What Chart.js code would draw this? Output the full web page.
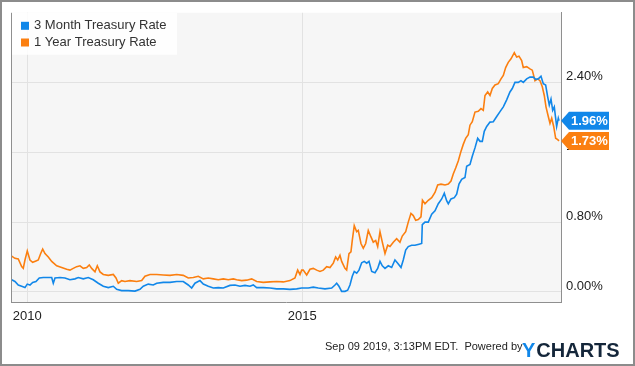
<!DOCTYPE html>
<html>
<head>
<meta charset="utf-8">
<script src="https://cdn.jsdelivr.net/npm/chart.js@4/dist/chart.umd.min.js"></script>
<style>
  html, body { margin: 0; padding: 0; background: #fff; }
  canvas { display: block; }
</style>
</head>
<body>
<canvas id="chart" width="635" height="366"></canvas>
<script>
// [decimal year, rate in %]
const threeMonthSeries = [
  [2009.716, 0.14], [2009.776, 0.12], [2009.836, 0.08], [2009.898, 0.065], [2009.958, 0.05],
  [2010.000, 0.09], [2010.049, 0.08], [2010.098, 0.11], [2010.158, 0.12], [2010.218, 0.16],
  [2010.291, 0.165], [2010.382, 0.165], [2010.444, 0.165], [2010.473, 0.10], [2010.504, 0.16],
  [2010.595, 0.165], [2010.685, 0.16], [2010.776, 0.14], [2010.867, 0.15], [2010.927, 0.165],
  [2011.018, 0.15], [2011.109, 0.165], [2011.200, 0.14], [2011.291, 0.10], [2011.382, 0.065],
  [2011.473, 0.05], [2011.564, 0.065], [2011.625, 0.03], [2011.716, 0.015], [2011.836, 0.015],
  [2011.958, 0.01], [2012.049, 0.03], [2012.109, 0.065], [2012.200, 0.09], [2012.291, 0.08],
  [2012.353, 0.10], [2012.473, 0.11], [2012.595, 0.11], [2012.716, 0.12], [2012.836, 0.12],
  [2012.927, 0.08], [2012.989, 0.045], [2013.049, 0.10], [2013.140, 0.13], [2013.200, 0.09],
  [2013.291, 0.065], [2013.382, 0.045], [2013.473, 0.05], [2013.564, 0.045], [2013.685, 0.075],
  [2013.776, 0.08], [2013.867, 0.065], [2013.958, 0.075], [2014.049, 0.065], [2014.109, 0.08],
  [2014.171, 0.05], [2014.291, 0.05], [2014.413, 0.045], [2014.535, 0.035], [2014.655, 0.035],
  [2014.776, 0.03], [2014.898, 0.035], [2014.989, 0.045], [2015.109, 0.045], [2015.200, 0.055],
  [2015.291, 0.045], [2015.413, 0.035], [2015.535, 0.045], [2015.595, 0.08], [2015.625, 0.10],
  [2015.667, 0.065], [2015.716, 0.007], [2015.776, 0.007], [2015.825, 0.02], [2015.867, 0.08],
  [2015.909, 0.18], [2015.945, 0.235], [2015.989, 0.215], [2016.031, 0.25], [2016.080, 0.335],
  [2016.127, 0.35], [2016.171, 0.33], [2016.213, 0.35], [2016.262, 0.235], [2016.322, 0.22],
  [2016.371, 0.27], [2016.413, 0.35], [2016.455, 0.30], [2016.504, 0.27], [2016.564, 0.30],
  [2016.625, 0.28], [2016.685, 0.366], [2016.735, 0.33], [2016.795, 0.28], [2016.836, 0.366],
  [2016.880, 0.48], [2016.927, 0.52], [2016.989, 0.535], [2017.049, 0.535], [2017.122, 0.547],
  [2017.171, 0.555], [2017.182, 0.77], [2017.231, 0.80], [2017.291, 0.80], [2017.353, 0.89],
  [2017.413, 0.93], [2017.473, 1.01], [2017.535, 1.065], [2017.582, 1.13], [2017.625, 1.045],
  [2017.655, 1.01], [2017.704, 1.065], [2017.764, 1.08], [2017.807, 1.12], [2017.849, 1.235],
  [2017.898, 1.29], [2017.958, 1.31], [2017.989, 1.44], [2018.049, 1.46], [2018.091, 1.555],
  [2018.140, 1.65], [2018.189, 1.76], [2018.231, 1.725], [2018.273, 1.725], [2018.309, 1.84],
  [2018.353, 1.895], [2018.413, 1.945], [2018.473, 1.95], [2018.535, 2.01], [2018.595, 2.065],
  [2018.655, 2.12], [2018.716, 2.20], [2018.776, 2.29], [2018.818, 2.33], [2018.867, 2.40],
  [2018.927, 2.40], [2018.976, 2.42], [2019.018, 2.40], [2019.080, 2.44], [2019.140, 2.46],
  [2019.200, 2.46], [2019.244, 2.435], [2019.291, 2.44], [2019.340, 2.47], [2019.382, 2.385],
  [2019.425, 2.37], [2019.462, 2.235], [2019.491, 2.14], [2019.522, 2.21], [2019.553, 2.08],
  [2019.582, 2.12], [2019.625, 1.895], [2019.655, 1.99], [2019.668, 1.96]
];

const oneYearSeries = [
  [2009.716, 0.41], [2009.776, 0.385], [2009.836, 0.377], [2009.898, 0.29], [2009.927, 0.27],
  [2009.958, 0.366], [2010.000, 0.47], [2010.049, 0.366], [2010.098, 0.34], [2010.158, 0.355],
  [2010.200, 0.366], [2010.244, 0.44], [2010.280, 0.49], [2010.322, 0.44], [2010.382, 0.40],
  [2010.444, 0.35], [2010.535, 0.30], [2010.625, 0.28], [2010.716, 0.26], [2010.776, 0.25],
  [2010.836, 0.27], [2010.898, 0.29], [2010.958, 0.30], [2011.018, 0.27], [2011.080, 0.28],
  [2011.127, 0.31], [2011.171, 0.27], [2011.231, 0.23], [2011.273, 0.30], [2011.322, 0.23],
  [2011.382, 0.20], [2011.473, 0.19], [2011.564, 0.20], [2011.613, 0.16], [2011.655, 0.10],
  [2011.716, 0.13], [2011.776, 0.12], [2011.867, 0.13], [2011.989, 0.12], [2012.080, 0.13],
  [2012.140, 0.18], [2012.231, 0.20], [2012.322, 0.20], [2012.353, 0.20], [2012.473, 0.195],
  [2012.595, 0.19], [2012.716, 0.20], [2012.836, 0.19], [2012.927, 0.16], [2013.018, 0.165],
  [2013.109, 0.18], [2013.200, 0.15], [2013.291, 0.16], [2013.382, 0.15], [2013.473, 0.14],
  [2013.564, 0.15], [2013.655, 0.14], [2013.745, 0.15], [2013.807, 0.14], [2013.898, 0.13],
  [2013.989, 0.135], [2014.080, 0.15], [2014.171, 0.12], [2014.291, 0.11], [2014.413, 0.115],
  [2014.535, 0.12], [2014.655, 0.115], [2014.776, 0.13], [2014.867, 0.16], [2014.916, 0.25],
  [2014.958, 0.20], [2014.989, 0.25], [2015.018, 0.25], [2015.080, 0.195], [2015.140, 0.26],
  [2015.200, 0.27], [2015.262, 0.25], [2015.322, 0.235], [2015.382, 0.25], [2015.444, 0.29],
  [2015.504, 0.28], [2015.564, 0.33], [2015.607, 0.40], [2015.644, 0.366], [2015.685, 0.42],
  [2015.716, 0.35], [2015.776, 0.27], [2015.807, 0.25], [2015.849, 0.44], [2015.885, 0.46],
  [2015.909, 0.59], [2015.945, 0.76], [2015.989, 0.69], [2016.018, 0.705], [2016.067, 0.555],
  [2016.109, 0.50], [2016.153, 0.555], [2016.200, 0.705], [2016.249, 0.63], [2016.291, 0.57],
  [2016.335, 0.59], [2016.371, 0.52], [2016.413, 0.69], [2016.455, 0.57], [2016.504, 0.44],
  [2016.553, 0.535], [2016.595, 0.52], [2016.655, 0.57], [2016.716, 0.61], [2016.776, 0.57],
  [2016.818, 0.64], [2016.880, 0.69], [2016.927, 0.80], [2016.976, 0.90], [2017.018, 0.875],
  [2017.062, 0.82], [2017.109, 0.83], [2017.158, 0.86], [2017.185, 1.05], [2017.231, 1.01],
  [2017.291, 1.05], [2017.353, 1.08], [2017.413, 1.14], [2017.462, 1.225], [2017.522, 1.235],
  [2017.595, 1.225], [2017.655, 1.235], [2017.704, 1.27], [2017.745, 1.35], [2017.789, 1.42],
  [2017.836, 1.50], [2017.885, 1.61], [2017.927, 1.69], [2017.971, 1.76], [2018.018, 1.80],
  [2018.049, 1.91], [2018.091, 1.95], [2018.140, 2.06], [2018.200, 2.07], [2018.249, 2.10],
  [2018.291, 2.08], [2018.322, 2.25], [2018.371, 2.29], [2018.413, 2.25], [2018.455, 2.33],
  [2018.504, 2.37], [2018.564, 2.385], [2018.613, 2.44], [2018.655, 2.48], [2018.698, 2.57],
  [2018.745, 2.63], [2018.795, 2.67], [2018.855, 2.74], [2018.898, 2.69], [2018.940, 2.70],
  [2018.989, 2.65], [2019.018, 2.57], [2019.080, 2.58], [2019.140, 2.555], [2019.182, 2.54],
  [2019.231, 2.42], [2019.280, 2.44], [2019.322, 2.42], [2019.364, 2.35], [2019.400, 2.25],
  [2019.431, 2.12], [2019.473, 2.01], [2019.504, 1.93], [2019.535, 1.99], [2019.571, 1.895],
  [2019.607, 1.76], [2019.644, 1.745], [2019.668, 1.73]
];

const seriesNames = ["3 Month Treasury Rate", "1 Year Treasury Rate"];
const seriesColors = ["#1187e9", "#fb7f10"];
const yearTicks = [2010, 2015];
const rateTicks = [0, 0.8, 1.6, 2.4];
const footerText = "Sep 09 2019, 3:13PM EDT.  Powered by";

const FONT = '"Liberation Sans", Arial, sans-serif';

const toPoints = s => s.map(([x, y]) => ({ x, y }));

const frame = {
  id: 'frame',
  beforeDraw(chart) {
    const { ctx, chartArea: a } = chart;
    ctx.save();
    ctx.fillStyle = '#fff';
    ctx.fillRect(0, 0, chart.width, chart.height);
    ctx.fillStyle = '#f6f6f6';
    ctx.fillRect(a.left, a.top, a.right - a.left, a.bottom - a.top);
    ctx.restore();
  },
  afterDatasetsDraw(chart) {
    const { ctx, chartArea: a } = chart;
    ctx.save();
    // left border of plot
    ctx.strokeStyle = '#8f8f8f';
    ctx.lineWidth = 1;
    ctx.beginPath();
    ctx.moveTo(a.left + 0.5, a.top);
    ctx.lineTo(a.left + 0.5, a.bottom);
    ctx.stroke();

    // legend box
    ctx.fillStyle = 'rgba(255,255,255,0.85)';
    ctx.fillRect(a.left + 1, a.top, 165, 42);
    ctx.font = '13px ' + FONT;
    ctx.textBaseline = 'middle';
    chart.data.datasets.forEach((ds, i) => {
      const y = a.top + 13 + i * 16.7;
      ctx.fillStyle = ds.borderColor;
      ctx.fillRect(a.left + 10, y - 4, 8, 8);
      ctx.fillStyle = '#333';
      ctx.fillText(ds.label, a.left + 23, y);
    });
    ctx.restore();
  },
  afterDraw(chart) {
    const { ctx, chartArea: a } = chart;
    const yScale = chart.scales.y;
    ctx.save();

    // last-value tags
    chart.data.datasets.forEach(ds => {
      const last = ds.data[ds.data.length - 1];
      const y = yScale.getPixelForValue(last.y);
      const x0 = a.right, h = 18;
      ctx.fillStyle = ds.borderColor;
      ctx.beginPath();
      ctx.moveTo(x0, y);
      ctx.lineTo(x0 + 8, y - h / 2);
      ctx.lineTo(x0 + 48, y - h / 2);
      ctx.lineTo(x0 + 48, y + h / 2);
      ctx.lineTo(x0 + 8, y + h / 2);
      ctx.closePath();
      ctx.fill();
      ctx.fillStyle = '#fff';
      ctx.font = 'bold 13px ' + FONT;
      ctx.textBaseline = 'middle';
      ctx.textAlign = 'left';
      ctx.fillText(last.y.toFixed(2) + '%', x0 + 10, y + 0.5);
    });

    // footer
    ctx.textBaseline = 'alphabetic';
    ctx.textAlign = 'left';
    ctx.fillStyle = '#222';
    ctx.font = '11px ' + FONT;
    ctx.fillText(footerText, 325, 350);
    ctx.font = 'bold 20px ' + FONT;
    ctx.fillStyle = '#1187e9';
    ctx.fillText('Y', 522, 357);
    const yw = ctx.measureText('Y').width;
    ctx.fillStyle = '#14263a';
    ctx.fillText('CHARTS', 522 + yw + 1, 357);

    // outer border
    ctx.strokeStyle = '#8c8c8c';
    ctx.lineWidth = 2;
    ctx.strokeRect(1, 1, chart.width - 2, chart.height - 2);
    ctx.restore();
  }
};

new Chart(document.getElementById('chart'), {
  type: 'line',
  data: {
    datasets: [
      { label: seriesNames[0], data: toPoints(threeMonthSeries), borderColor: seriesColors[0] },
      { label: seriesNames[1], data: toPoints(oneYearSeries), borderColor: seriesColors[1] }
    ]
  },
  options: {
    responsive: false,
    animation: false,
    layout: { padding: { left: 11, top: 10, right: 0, bottom: 0 } },
    elements: {
      point: { radius: 0 },
      line: { borderWidth: 1.6, tension: 0 }
    },
    plugins: { legend: { display: false }, tooltip: { enabled: false } },
    scales: {
      x: {
        type: 'linear',
        min: 2009.704,
        max: 2019.704,
        afterBuildTicks: axis => { axis.ticks = yearTicks.map(v => ({ value: v })) },
        afterFit: s => { s.height = 64 },
        grid: { color: '#e2e2e2', drawTicks: false },
        border: { color: '#8f8f8f' },
        ticks: {
          padding: 7,
          maxRotation: 0,
          color: '#222',
          font: { family: FONT, size: 13 },
          callback: v => String(v)
        }
      },
      y: {
        position: 'right',
        min: -0.115,
        max: 3.197,
        afterBuildTicks: axis => { axis.ticks = rateTicks.map(v => ({ value: v })) },
        afterFit: s => { s.width = 74 },
        grid: { color: '#e2e2e2', drawTicks: false },
        border: { color: '#8f8f8f' },
        ticks: {
          padding: 5,
          labelOffset: -6,
          color: '#222',
          font: { family: FONT, size: 13 },
          callback: v => v.toFixed(2) + '%'
        }
      }
    }
  },
  plugins: [frame]
});
</script>
</body>
</html>
